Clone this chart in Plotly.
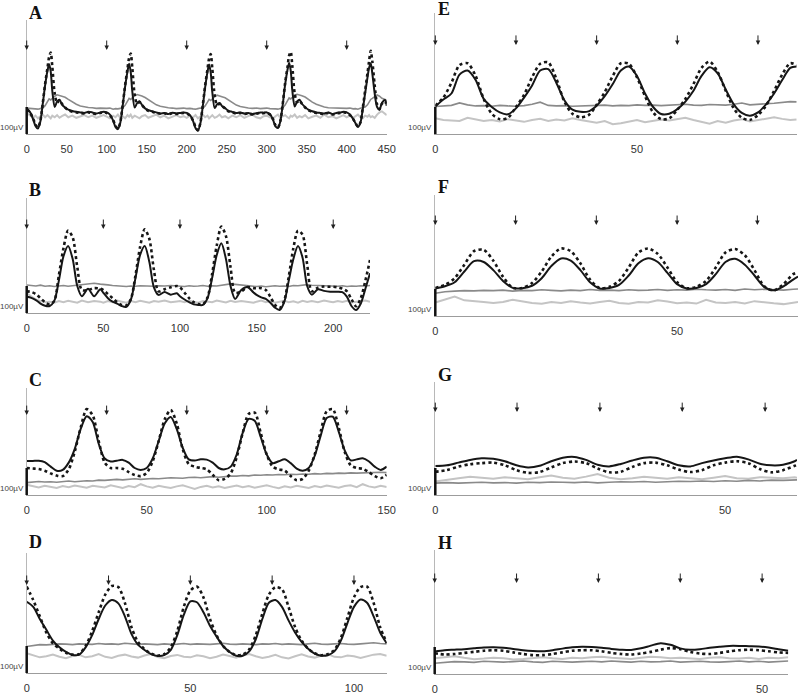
import plotly.graph_objects as go

W, H = 800, 694
PX_PER_UV = 0.27      # the 100 uV scale bar is about 27 px tall
SCALE_UV = 100

# ---------------- panel A ----------------
A_t = [0, 4, 8, 11, 14, 17, 20, 23, 26, 28, 30, 32, 35, 38, 41, 44, 48, 52, 57, 62, 67, 72, 77, 82, 87, 92, 96,
       100, 104, 108, 111, 114, 117, 120, 123, 126, 128, 130, 132, 135, 138, 141, 144, 148, 152, 157, 162, 167, 172, 177, 182, 187, 192, 196,
       200, 204, 208, 211, 214, 217, 220, 223, 226, 228, 230, 232, 235, 238, 241, 244, 248, 252, 257, 262, 267, 272, 277, 282, 287, 292, 296,
       300, 304, 308, 311, 314, 317, 320, 323, 326, 328, 330, 332, 335, 338, 341, 344, 348, 352, 357, 362, 367, 372, 377, 382, 387, 392, 396,
       400, 404, 408, 411, 414, 417, 420, 423, 426, 428, 430, 432, 435, 438, 441, 444, 448, 450]
A_black = [95, 82, 55, 30, 20, 45, 110, 180, 235, 258, 232, 160, 100, 120, 127, 110, 98, 90, 85, 82, 80, 78, 82, 80, 76, 80, 82,
           80, 72, 50, 26, 18, 42, 105, 175, 232, 260, 230, 158, 98, 114, 121, 108, 95, 88, 84, 80, 76, 78, 74, 79, 76, 78, 80,
           78, 70, 48, 22, 12, 38, 100, 172, 230, 257, 228, 155, 96, 110, 115, 104, 96, 86, 82, 78, 80, 76, 78, 74, 77, 80, 79,
           80, 74, 52, 28, 22, 46, 108, 182, 238, 263, 236, 162, 102, 120, 127, 112, 100, 90, 84, 80, 78, 76, 80, 74, 78, 80, 82,
           80, 72, 56, 40, 26, 40, 90, 150, 210, 245, 262, 225, 150, 100, 90, 115, 126, 104]
A_dotted = [92, 80, 58, 35, 24, 48, 112, 185, 245, 285, 302, 250, 150, 115, 125, 112, 98, 88, 82, 80, 78, 76, 80, 77, 74, 78, 80,
            78, 70, 52, 30, 20, 44, 108, 180, 242, 282, 298, 245, 145, 112, 118, 108, 94, 86, 82, 78, 75, 77, 73, 77, 74, 76, 78,
            76, 68, 50, 26, 14, 40, 104, 178, 240, 280, 296, 242, 142, 108, 112, 104, 94, 84, 80, 76, 78, 74, 76, 72, 75, 78, 77,
            78, 72, 54, 32, 24, 48, 110, 188, 248, 290, 304, 252, 150, 118, 124, 112, 98, 88, 82, 78, 76, 74, 78, 72, 76, 78, 80,
            78, 70, 56, 40, 28, 42, 95, 160, 225, 270, 308, 270, 180, 110, 92, 112, 122, 100]
A_dark = [96, 95, 93, 95, 92, 94, 96, 105, 120, 130, 126, 132, 140, 145, 143, 140, 136, 128, 118, 110, 104, 100, 98, 97, 95, 96, 95,
          95, 96, 92, 94, 93, 95, 97, 106, 122, 132, 128, 134, 142, 146, 144, 141, 135, 127, 116, 108, 103, 99, 97, 96, 94, 95, 96,
          94, 95, 93, 92, 94, 96, 95, 104, 118, 128, 124, 130, 138, 144, 142, 138, 134, 126, 115, 107, 102, 98, 96, 95, 96, 94, 95,
          96, 94, 95, 93, 92, 95, 97, 107, 124, 134, 130, 136, 144, 147, 145, 142, 137, 128, 118, 110, 104, 100, 97, 96, 95, 96, 94,
          95, 96, 93, 94, 92, 95, 98, 100, 108, 120, 128, 132, 140, 145, 140, 132, 128, 124]
A_light = [78, 70, 60, 68, 58, 66, 72, 62, 70, 64, 58, 68, 62, 70, 60, 66, 72, 62, 68, 60, 66, 70, 62, 68, 60, 66, 70,
           64, 58, 68, 62, 72, 60, 66, 58, 70, 64, 72, 60, 68, 62, 58, 66, 70, 60, 66, 72, 62, 68, 58, 64, 70, 62, 66,
           60, 68, 62, 70, 58, 64, 72, 62, 68, 58, 66, 70, 60, 64, 72, 62, 66, 58, 68, 62, 70, 60, 66, 72, 62, 58, 66,
           68, 62, 58, 66, 72, 60, 64, 70, 62, 58, 68, 64, 72, 60, 66, 62, 70, 58, 64, 68, 60, 72, 62, 66, 58, 64, 70,
           62, 68, 60, 66, 72, 62, 58, 68, 64, 70, 62, 66, 60, 72, 80, 84, 76, 70]
A_stim = [0, 100, 200, 300, 400]

# ---------------- panel B ----------------
B_t = [0, 3, 6, 9, 12, 15, 18, 21, 24, 27, 30, 33, 36, 40, 44, 48,
       50, 53, 56, 59, 62, 65, 68, 71, 74, 77, 80, 83, 86, 90, 94, 98,
       100, 103, 106, 109, 112, 115, 118, 121, 124, 127, 130, 133, 136, 140, 144, 148,
       150, 153, 156, 159, 162, 165, 168, 171, 174, 177, 180, 183, 186, 190, 194, 198,
       200, 203, 206, 209, 212, 215, 218, 221, 224]
B_black = [60, 56, 48, 35, 27, 26, 45, 120, 210, 248, 200, 100, 62, 90, 62, 88,
           75, 55, 42, 35, 26, 23, 50, 130, 215, 248, 190, 95, 67, 78, 68, 73,
           62, 50, 40, 32, 30, 30, 55, 130, 215, 258, 200, 100, 52, 85, 96, 76,
           67, 58, 52, 38, 20, 11, 40, 120, 200, 248, 205, 100, 68, 88, 82, 79,
           79, 79, 77, 60, 25, 11, 35, 90, 147]
B_dotted = [80, 78, 70, 55, 40, 32, 45, 140, 240, 305, 280, 170, 85, 85, 92, 90,
            85, 70, 55, 40, 30, 28, 52, 140, 245, 310, 275, 160, 80, 88, 95, 100,
            95, 75, 55, 40, 33, 32, 58, 145, 250, 320, 285, 170, 75, 80, 96, 92,
            92, 92, 85, 60, 30, 18, 45, 135, 240, 305, 290, 180, 80, 94, 98, 97,
            97, 95, 90, 80, 50, 25, 55, 120, 196]
B_dark = [104, 102, 100, 103, 99, 101, 98, 100, 102, 99, 101, 104, 106, 108, 110, 107,
          105, 104, 102, 100, 99, 98, 100, 99, 101, 100, 98, 99, 101, 100, 102, 99,
          100, 98, 101, 99, 100, 102, 99, 101, 100, 103, 104, 108, 106, 104, 102, 100,
          98, 100, 97, 99, 101, 99, 100, 98, 102, 101, 104, 105, 103, 102, 100, 101,
          100, 99, 101, 98, 100, 99, 101, 100, 102]
B_light = [73, 62, 50, 44, 40, 42, 38, 44, 40, 45, 42, 38, 46, 40, 44, 42,
           38, 44, 40, 46, 42, 38, 44, 40, 45, 41, 38, 44, 42, 46, 40, 43,
           44, 40, 46, 41, 38, 44, 42, 40, 46, 43, 39, 45, 41, 44, 40, 38,
           42, 46, 40, 44, 38, 42, 45, 40, 43, 38, 45, 41, 44, 40, 46, 42,
           40, 44, 41, 45, 39, 42, 44, 46, 42]
B_stim = [0, 50, 100, 150, 200]

# ---------------- panel C ----------------
C_t = [0, 2.5, 5, 7.5, 10, 12.5, 15, 17.5, 20, 22.5, 25, 27.5, 30, 32.5, 35, 37.5, 40, 42.5, 45, 47.5,
       50, 52.5, 55, 57.5, 60, 62.5, 65, 67.5, 70, 72.5, 75, 77.5, 80, 82.5, 85, 87.5, 90, 92.5, 95, 97.5,
       100, 102.5, 105, 107.5, 110, 112.5, 115, 117.5, 120, 122.5, 125, 127.5, 130, 132.5, 135, 137.5, 140, 142.5, 145, 147.5, 150]
C_black = [126, 126, 127, 122, 105, 90, 93, 120, 170, 245,
           292, 270, 190, 135, 124, 127, 130, 120, 100, 93,
           100, 135, 200, 265, 289, 245, 175, 132, 128, 132,
           131, 120, 100, 95, 105, 150, 230, 282, 275, 215,
           150, 118, 125, 132, 118, 98, 90, 100, 145, 220,
           285, 290, 235, 165, 128, 132, 136, 125, 105, 93,
           105]
C_dotted = [100, 98, 96, 90, 80, 72, 70, 95, 160, 250,
            318, 295, 200, 120, 100, 100, 97, 85, 74, 70,
            82, 125, 200, 280, 315, 265, 170, 115, 105, 100,
            95, 75, 55, 60, 80, 140, 230, 300, 305, 230,
            150, 105, 95, 90, 70, 55, 60, 90, 150, 235,
            310, 318, 250, 160, 110, 100, 97, 85, 70, 62,
            75]
C_dark = [46, 47, 50, 48, 49, 47, 50, 52, 49, 51,
          53, 52, 55, 54, 56, 58, 56, 57, 60, 58,
          60, 61, 60, 62, 64, 63, 62, 65, 66, 64,
          67, 68, 66, 69, 70, 70, 72, 71, 74, 73,
          75, 74, 76, 75, 77, 76, 78, 77, 79, 78,
          80, 79, 81, 80, 82, 81, 82, 83, 82, 84,
          83]
C_light = [38, 32, 28, 34, 30, 26, 33, 29, 35, 30,
           27, 34, 31, 28, 36, 30, 26, 33, 29, 40,
           32, 27, 34, 30, 26, 32, 36, 29, 22, 30,
           34, 28, 32, 26, 31, 35, 29, 33, 27, 31,
           36, 30, 25, 32, 28, 34, 30, 26, 33, 29,
           35, 31, 27, 33, 36, 29, 40, 32, 28, 34,
           30]
C_stim = [0, 33.3, 66.7, 100, 133.3]

# ---------------- panel D ----------------
D_t = [0, 2, 4, 6, 8, 10, 12, 14, 16, 18, 20, 22, 24, 26, 28, 30, 32, 34, 36, 38,
       40, 42, 44, 46, 48, 50, 52, 54, 56, 58, 60, 62, 64, 66, 68, 70, 72, 74, 76, 78,
       80, 82, 84, 86, 88, 90, 92, 94, 96, 98, 100, 102, 104, 106, 108, 110]
D_black = [264, 245, 200, 160, 120, 95, 78, 67, 68, 95,
           140, 200, 250, 270, 258, 210, 145, 105, 85, 70,
           63, 66, 85, 140, 215, 265, 262, 225, 175, 135,
           100, 78, 64, 64, 80, 125, 200, 260, 270, 245,
           195, 150, 115, 90, 72, 64, 66, 80, 120, 185,
           245, 272, 260, 210, 150, 110]
D_dotted = [320, 270, 210, 150, 110, 90, 75, 68, 70, 100,
            155, 225, 290, 322, 318, 260, 170, 115, 88, 72,
            65, 70, 95, 155, 245, 305, 320, 280, 200, 140,
            100, 78, 66, 68, 88, 140, 220, 290, 318, 310,
            245, 170, 120, 90, 73, 66, 70, 85, 130, 205,
            280, 318, 320, 260, 170, 112]
D_dark = [98, 102, 105, 104, 106, 108, 107, 105, 108, 107,
          106, 109, 107, 108, 106, 110, 107, 106, 108, 107,
          105, 108, 106, 107, 109, 106, 108, 107, 106, 108,
          110, 107, 106, 108, 107, 105, 108, 107, 109, 106,
          108, 107, 105, 108, 110, 107, 106, 108, 109, 107,
          106, 108, 110, 112, 109, 108]
D_light = [73, 66, 58, 62, 68, 60, 55, 63, 67, 58,
           62, 70, 60, 56, 64, 68, 61, 57, 65, 70,
           59, 55, 63, 67, 60, 58, 66, 62, 55, 60,
           68, 63, 57, 65, 70, 62, 56, 60, 67, 58,
           54, 62, 69, 61, 57, 64, 70, 60, 58, 65,
           62, 56, 63, 68, 70, 64]
D_stim = [0, 25, 50, 75, 100]

# ---------------- panel E ----------------
E_t = [0, 2, 4, 6, 8, 10, 12, 14, 16, 18, 20, 22, 24, 26, 28, 30, 32, 34, 36, 38,
       40, 42, 44, 46, 48, 50, 52, 54, 56, 58, 60, 62, 64, 66, 68, 70, 72, 74, 76, 78,
       80, 82, 84, 86, 88, 89.6]
E_black = [102, 128, 150, 220, 235, 200, 130, 100, 80, 73,
           95, 135, 180, 235, 240, 190, 125, 90, 82, 84,
           105, 140, 185, 235, 250, 215, 150, 100, 74, 75,
           92, 120, 160, 215, 247, 225, 165, 110, 78, 68,
           80, 110, 150, 200, 245, 250]
E_dotted = [105, 135, 190, 255, 262, 215, 130, 75, 55, 60,
            100, 145, 210, 260, 265, 205, 120, 75, 62, 70,
            108, 155, 215, 262, 260, 210, 140, 80, 55, 58,
            90, 130, 185, 245, 268, 230, 160, 95, 60, 52,
            70, 105, 160, 220, 262, 255]
E_dark = [102, 104, 106, 115, 108, 104, 105, 103, 106, 104,
          103, 105, 110, 118, 106, 104, 105, 103, 104, 106,
          105, 107, 104, 106, 105, 108, 106, 107, 105, 106,
          108, 110, 107, 106, 109, 108, 107, 110, 115, 108,
          109, 112, 114, 118, 120, 119]
E_light = [58, 52, 50, 48, 60, 55, 48, 52, 46, 55,
           50, 45, 52, 56, 48, 54, 50, 58, 52, 46,
           42, 48, 36, 40, 46, 52, 44, 48, 54, 50,
           56, 60, 52, 44, 38, 48, 42, 50, 55, 46,
           52, 58, 62, 56, 52, 54]
E_stim = [0, 20, 40, 60, 80]

# ---------------- panel F ----------------
F_t = [0, 2, 4, 6, 8, 10, 12, 14, 16, 18, 20, 22, 24, 26, 28, 30, 32, 34, 36, 38,
       40, 42, 44, 46, 48, 50, 52, 54, 56, 58, 60, 62, 64, 66, 68, 70, 72, 74, 75]
F_black = [102, 110, 125, 165, 203, 200, 170, 130, 104, 103,
           112, 140, 185, 213, 205, 170, 125, 102, 104, 115,
           150, 195, 214, 200, 160, 118, 102, 104, 118, 155,
           200, 212, 190, 150, 108, 95, 110, 135, 146]
F_dotted = [104, 115, 140, 190, 240, 245, 205, 145, 105, 104,
            122, 165, 220, 250, 240, 195, 135, 103, 108, 130,
            180, 235, 250, 230, 180, 125, 103, 108, 130, 180,
            235, 248, 225, 170, 110, 95, 118, 155, 162]
F_dark = [84, 90, 92, 94, 93, 95, 94, 96, 92, 95,
          94, 97, 95, 93, 96, 94, 98, 95, 96, 94,
          97, 95, 96, 98, 95, 97, 96, 99, 97, 96,
          98, 95, 100, 97, 99, 98, 96, 99, 100]
F_light = [50, 62, 72, 58, 56, 52, 48, 52, 60, 54,
           48, 45, 52, 48, 55, 50, 46, 52, 56, 48,
           45, 52, 50, 58, 54, 47, 50, 46, 60, 50,
           48, 52, 46, 55, 50, 47, 44, 50, 52]
F_stim = [0, 16.6, 33.3, 50, 66.6]

# ---------------- panel G ----------------
G_t = [0, 2, 4, 6, 8, 10, 12, 14, 16, 18, 20, 22, 24, 26, 28, 30, 32, 34, 36, 38,
       40, 42, 44, 46, 48, 50, 52, 54, 56, 58, 60, 62, 62.4]
G_black = [107, 110, 120, 130, 136, 134, 125, 110, 102, 108,
           125, 138, 141, 130, 112, 106, 115, 128, 138, 138,
           125, 110, 106, 118, 128, 136, 142, 132, 116, 110,
           112, 125, 130]
G_dotted = [86, 92, 105, 114, 118, 120, 110, 92, 82, 85,
            102, 118, 124, 118, 98, 84, 86, 104, 118, 120,
            110, 94, 85, 92, 110, 120, 125, 118, 96, 84,
            92, 108, 111]
G_dark = [44, 46, 44, 45, 47, 45, 46, 44, 47, 46,
          48, 47, 46, 48, 45, 47, 49, 48, 50, 47,
          49, 51, 50, 52, 50, 53, 51, 54, 52, 55,
          54, 56, 56]
G_light = [50, 55, 62, 68, 64, 60, 66, 62, 58, 66,
           72, 64, 60, 68, 78, 64, 58, 62, 68, 64,
           60, 66, 62, 58, 64, 70, 62, 60, 66, 64,
           62, 66, 64]
G_stim = [0, 14.1, 28.4, 42.6, 56.9]

# ---------------- panel H ----------------
H_t = [0, 1.5, 3, 4.5, 6, 7.5, 9, 10.5, 12, 13.5, 15, 16.5, 18, 19.5, 21, 22.5, 24, 25.5, 27, 28.5,
       30, 31.5, 33, 34.5, 36, 37.5, 39, 40.5, 42, 43.5, 45, 46.5, 48, 49.5, 51, 52.5, 54]
H_black = [83, 88, 90, 92, 95, 98, 99, 97, 93, 88,
           85, 84, 88, 94, 99, 101, 100, 97, 93, 90,
           89, 95, 105, 114, 108, 95, 90, 92, 97, 101,
           104, 104, 103, 102, 98, 92, 86]
H_dotted = [77, 72, 74, 78, 82, 86, 88, 86, 80, 74,
            70, 70, 74, 80, 86, 88, 88, 84, 78, 74,
            72, 76, 82, 90, 96, 92, 82, 76, 74, 78,
            84, 88, 90, 88, 84, 80, 78]
H_dark = [40, 44, 46, 45, 43, 47, 46, 44, 46, 48,
          45, 43, 47, 46, 44, 46, 47, 45, 48, 46,
          44, 47, 45, 46, 48, 44, 46, 47, 45, 44,
          46, 48, 45, 47, 44, 46, 48]
H_light = [58, 62, 66, 60, 55, 57, 60, 58, 54, 56,
           60, 62, 58, 56, 60, 58, 62, 64, 60, 58,
           56, 60, 64, 62, 58, 60, 57, 56, 60, 62,
           58, 57, 60, 56, 60, 58, 62]
H_stim = [0, 12.5, 25, 37.5, 50]

# page-pixel boxes of each plot area: (left, right, top, bottom), label spot and arrow tip (uV)
panels = [
    dict(name="A", t=A_t, black=A_black, dotted=A_dotted, dark=A_dark, light=A_light, stim=A_stim,
         box=(26.7, 386.7, 20, 134), label=(27, 13), tip=311),
    dict(name="B", t=B_t, black=B_black, dotted=B_dotted, dark=B_dark, light=B_light, stim=B_stim,
         box=(26.7, 370, 198, 313), label=(27, 190), tip=311),
    dict(name="C", t=C_t, black=C_black, dotted=C_dotted, dark=C_dark, light=C_light, stim=C_stim,
         box=(26.7, 386.7, 388, 495), label=(27, 380), tip=296),
    dict(name="D", t=D_t, black=D_black, dotted=D_dotted, dark=D_dark, light=D_light, stim=D_stim,
         box=(26.7, 386.7, 553, 673), label=(27, 542), tip=326),
    dict(name="E", t=E_t, black=E_black, dotted=E_dotted, dark=E_dark, light=E_light, stim=E_stim,
         box=(435.3, 796.7, 13, 134), label=(436, 9), tip=330),
    dict(name="F", t=F_t, black=F_black, dotted=F_dotted, dark=F_dark, light=F_light, stim=F_stim,
         box=(435.3, 798, 195, 316), label=(436, 187), tip=337),
    dict(name="G", t=G_t, black=G_black, dotted=G_dotted, dark=G_dark, light=G_light, stim=G_stim,
         box=(435.3, 797, 382, 495), label=(436, 375), tip=307),
    dict(name="H", t=H_t, black=H_black, dotted=H_dotted, dark=H_dark, light=H_light, stim=H_stim,
         box=(434.7, 788.3, 550, 674), label=(436, 543), tip=337),
]

fig = go.Figure()
axes = {}
annotations = []
shapes = []

for k, p in enumerate(panels, start=1):
    sfx = "" if k == 1 else str(k)
    xa, ya = "x" + sfx, "y" + sfx
    left, right, top, bottom = p["box"]
    ymax = (bottom - top) / PX_PER_UV

    styles = [
        (p["light"], "#c4c4c4", 2.0, "solid", "linear"),
        (p["dark"], "#8a8a8a", 1.6, "solid", "linear"),
        (p["dotted"], "#161616", 2.6, "3px,3px", "spline"),
        (p["black"], "#161616", 2.0, "solid", "spline"),
    ]
    for y, color, width, dash, shape in styles:
        fig.add_trace(go.Scatter(
            x=p["t"], y=y, mode="lines", xaxis=xa, yaxis=ya,
            line=dict(color=color, width=width, dash=dash, shape=shape,
                      **({"smoothing": 0.8} if shape == "spline" else {})),
            showlegend=False, hoverinfo="skip"))

    axes["xaxis" + sfx] = dict(
        domain=[left / W, right / W], range=[0, p["t"][-1]], anchor=ya, automargin=False,
        showline=True, linecolor="#9c9c9c", linewidth=1, showgrid=False, zeroline=False,
        ticks="outside", ticklen=5, tickcolor="rgba(0,0,0,0)", tick0=0, dtick=50,
        tickfont=dict(family="Liberation Sans", size=11, color="#333333"))
    axes["yaxis" + sfx] = dict(
        domain=[1 - bottom / H, 1 - top / H], range=[0, ymax], anchor=xa, automargin=False,
        showline=True, linecolor="#b8b8b8", linewidth=1, showgrid=False, zeroline=False,
        showticklabels=False, ticks="")

    # 100 uV scale bar
    shapes.append(dict(type="line", xref=xa + " domain", yref=ya + " domain",
                       x0=0, x1=0, y0=0, y1=SCALE_UV / ymax,
                       line=dict(color="#111111", width=2.5)))
    annotations.append(dict(text="100µV", xref=xa + " domain", yref=ya + " domain",
                            x=0, y=0, xanchor="right", yanchor="bottom", xshift=-1, showarrow=False,
                            font=dict(family="Liberation Sans", size=8, color="#444444")))

    # stimulus arrows
    for s in p["stim"]:
        annotations.append(dict(text="", x=s, y=p["tip"], xref=xa, yref=ya,
                                showarrow=True, ax=0, ay=-11, arrowhead=2, arrowsize=0.9,
                                arrowwidth=1, arrowcolor="#222222"))

    # panel letter
    lx, ly = p["label"]
    annotations.append(dict(text="<b>%s</b>" % p["name"], xref="paper", yref="paper",
                            x=lx / W, y=1 - ly / H, xanchor="left", yanchor="middle", showarrow=False,
                            font=dict(family="Liberation Serif", size=18, color="#111111")))

fig.update_layout(
    template="none",
    width=W, height=H,
    margin=dict(l=0, r=0, t=0, b=0, autoexpand=False),
    paper_bgcolor="white", plot_bgcolor="white",
    annotations=annotations, shapes=shapes,
    **axes
)

# the page body has a default 8px margin; drop it so the figure sits at the window corner
fig.write_html("out.html", config={"displayModeBar": False},
               post_script="document.body.style.margin='0px';")
